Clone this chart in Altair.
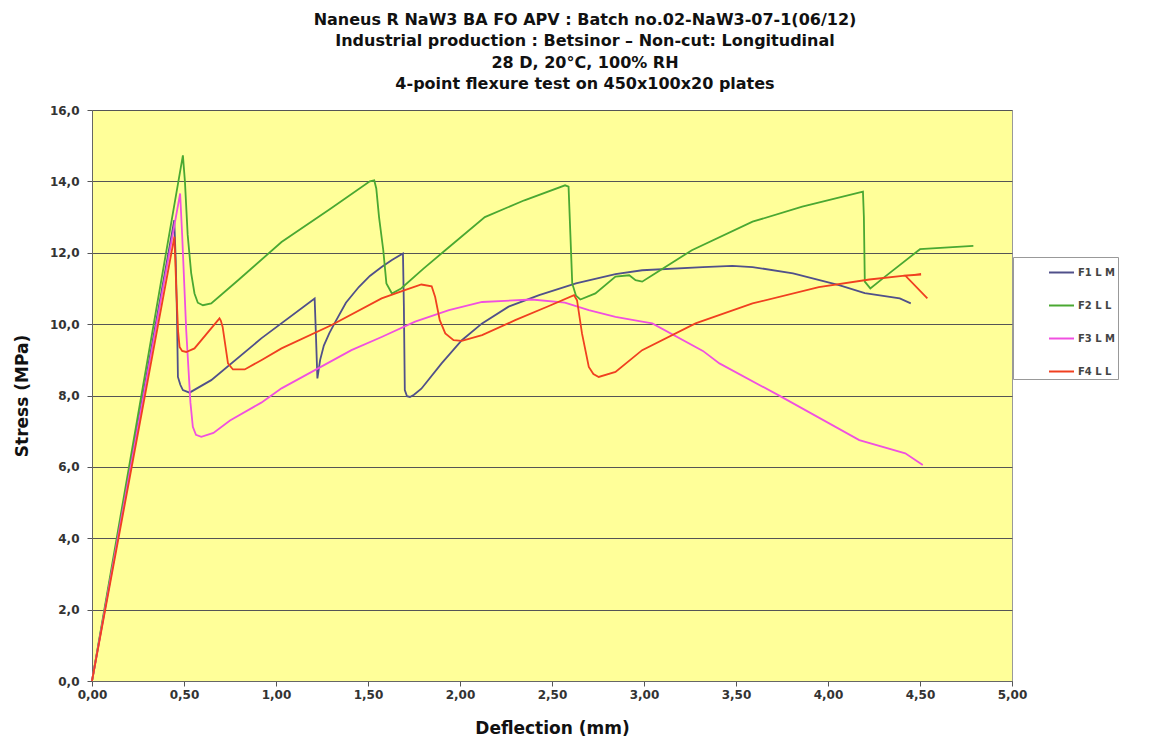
import altair as alt
import pandas as pd

series_names = ["F1 L M", "F2 L L", "F3 L M", "F4 L L"]
series_colors = ["#50508a", "#4aa832", "#f050e0", "#f04020"]

f1_x = [0.0, 0.447, 0.455, 0.462, 0.467, 0.48, 0.494, 0.53, 0.648, 0.92, 1.21, 1.215, 1.225, 1.24, 1.26,
        1.29, 1.318, 1.38, 1.45, 1.51, 1.574, 1.63, 1.69, 1.695, 1.70, 1.712, 1.728, 1.75, 1.79, 1.90, 2.01,
        2.12, 2.264, 2.43, 2.63, 2.845, 2.99, 3.32, 3.48, 3.59, 3.81, 4.06, 4.20, 4.39, 4.45]
f1_y = [0.0, 12.91, 11.8, 10.2, 8.52, 8.3, 8.15, 8.08, 8.43, 9.6, 10.72, 10.0, 8.48, 9.0, 9.4,
        9.75, 10.02, 10.6, 11.04, 11.35, 11.6, 11.8, 11.98, 10.5, 8.15, 7.98, 7.96, 8.02, 8.19, 8.90, 9.55,
        10.02, 10.49, 10.81, 11.14, 11.40, 11.51, 11.6, 11.63, 11.6, 11.42, 11.09, 10.87, 10.72, 10.58]

f2_x = [0.0, 0.494, 0.505, 0.52, 0.539, 0.557, 0.575, 0.603, 0.648, 0.794, 1.03, 1.30, 1.51, 1.534, 1.545,
        1.56, 1.583, 1.60, 1.63, 1.68, 1.80, 1.92, 2.135, 2.35, 2.571, 2.59, 2.60, 2.61, 2.63, 2.654, 2.736,
        2.845, 2.92, 2.954, 2.99, 3.045, 3.26, 3.59, 3.86, 4.19, 4.195, 4.20, 4.23, 4.31, 4.50, 4.79]
f2_y = [0.0, 14.73, 14.0, 12.5, 11.43, 10.86, 10.6, 10.53, 10.58, 11.23, 12.3, 13.25, 14.0, 14.03, 13.8,
        13.0, 12.07, 11.14, 10.86, 11.0, 11.55, 12.07, 13.0, 13.47, 13.89, 13.85, 12.5, 11.14, 10.8, 10.69, 10.86,
        11.33, 11.37, 11.23, 11.19, 11.37, 12.07, 12.87, 13.29, 13.71, 13.0, 11.19, 11.0, 11.33, 12.1, 12.19]

f3_x = [0.0, 0.479, 0.49, 0.512, 0.535, 0.548, 0.565, 0.594, 0.66, 0.75, 0.92, 1.03, 1.41, 1.574, 1.756,
        1.94, 2.12, 2.39, 2.57, 2.70, 2.845, 2.99, 3.045, 3.32, 3.41, 3.73, 4.17, 4.42, 4.515]
f3_y = [0.0, 13.66, 12.5, 9.83, 7.8, 7.12, 6.9, 6.84, 6.95, 7.3, 7.8, 8.2, 9.27, 9.64, 10.07,
        10.39, 10.62, 10.69, 10.6, 10.39, 10.20, 10.07, 10.02, 9.25, 8.90, 8.01, 6.75, 6.38, 6.05]

f4_x = [0.0, 0.448, 0.458, 0.468, 0.476, 0.49, 0.512, 0.557, 0.693, 0.70, 0.71, 0.739, 0.766, 0.83, 0.92,
        1.03, 1.30, 1.574, 1.70, 1.79, 1.846, 1.865, 1.89, 1.92, 1.965, 2.01, 2.12, 2.30, 2.48, 2.62, 2.636,
        2.663, 2.70, 2.725, 2.754, 2.845, 2.99, 3.28, 3.59, 3.95, 4.225, 4.405, 4.506, 4.42, 4.54]
f4_y = [0.0, 12.45, 11.0, 9.8, 9.36, 9.25, 9.22, 9.32, 10.16, 10.1, 9.92, 8.90, 8.73, 8.73, 8.99,
        9.32, 9.97, 10.72, 10.95, 11.11, 11.06, 10.76, 10.11, 9.74, 9.55, 9.53, 9.69, 10.11, 10.50, 10.81, 10.67,
        9.74, 8.80, 8.6, 8.52, 8.66, 9.27, 10.02, 10.58, 11.04, 11.25, 11.35, 11.39, 11.36, 10.72]

x_ticks = [0.0, 0.5, 1.0, 1.5, 2.0, 2.5, 3.0, 3.5, 4.0, 4.5, 5.0]
y_ticks = [0, 2, 4, 6, 8, 10, 12, 14, 16]

title_lines = [
    "Naneus R NaW3 BA FO APV : Batch no.02-NaW3-07-1(06/12)",
    "Industrial production : Betsinor \u2013 Non-cut: Longitudinal",
    "28 D, 20\u00b0C, 100% RH",
    "4-point flexure test on 450x100x20 plates",
]

rows = []
for name, xs, ys in zip(series_names, [f1_x, f2_x, f3_x, f4_x], [f1_y, f2_y, f3_y, f4_y]):
    for i, (xv, yv) in enumerate(zip(xs, ys)):
        rows.append({"series": name, "x": xv, "y": yv, "idx": i})
df = pd.DataFrame(rows)

FONT = "DejaVu Sans"

chart = alt.Chart(df).mark_line(strokeWidth=1.8, clip=False).encode(
    x=alt.X("x:Q", scale=alt.Scale(domain=[0, 5], nice=False),
            axis=alt.Axis(values=x_ticks, title="Deflection (mm)",
                          labelExpr="replace(format(datum.value, '.2f'), '.', ',')",
                          labelFlush=False,
                          grid=False, tickSize=5, tickColor="#555", domainColor="#666",
                          labelFont=FONT, labelFontWeight="bold", labelFontSize=12, labelColor="#333",
                          labelPadding=3, titleFont=FONT, titleFontWeight="bold", titleFontSize=17,
                          titleColor="#111", titlePadding=20)),
    y=alt.Y("y:Q", scale=alt.Scale(domain=[0, 16], nice=False),
            axis=alt.Axis(values=y_ticks, title="Stress (MPa)",
                          labelExpr="replace(format(datum.value, '.1f'), '.', ',')",
                          labelFlush=False,
                          grid=True, gridColor="#555", gridWidth=1, gridOpacity=1,
                          tickSize=5, tickColor="#555", domainColor="#666",
                          labelFont=FONT, labelFontWeight="bold", labelFontSize=12, labelColor="#333",
                          labelPadding=8, titleFont=FONT, titleFontWeight="bold", titleFontSize=17,
                          titleColor="#111", titlePadding=18)),
    color=alt.Color("series:N", scale=alt.Scale(domain=series_names, range=series_colors),
                    legend=alt.Legend(title=None, orient="none", legendX=921, legendY=147,
                                      symbolType="stroke", symbolSize=625, symbolStrokeWidth=2,
                                      symbolOffset=33, rowPadding=14, padding=2,
                                      strokeColor="#999", fillColor="white",
                                      labelFont=FONT, labelFontWeight="bold", labelFontSize=10,
                                      labelColor="#444", labelOffset=3, labelLimit=200)),
    order="idx:Q",
).properties(
    width=920,
    height=571,
    title=alt.TitleParams(text=title_lines, font=FONT, fontWeight="bold", fontSize=16,
                          lineHeight=21.5, color="#111", offset=12, anchor="middle", dx=33),
    autosize=alt.AutoSizeParams(type="none"),
    padding={"left": 84, "top": 102, "right": 134, "bottom": 57},
    background="white",
).configure_view(fill="#ffff99", stroke="#999", strokeWidth=1)

chart.save("out.html", embed_options={"renderer": "svg", "actions": False})
